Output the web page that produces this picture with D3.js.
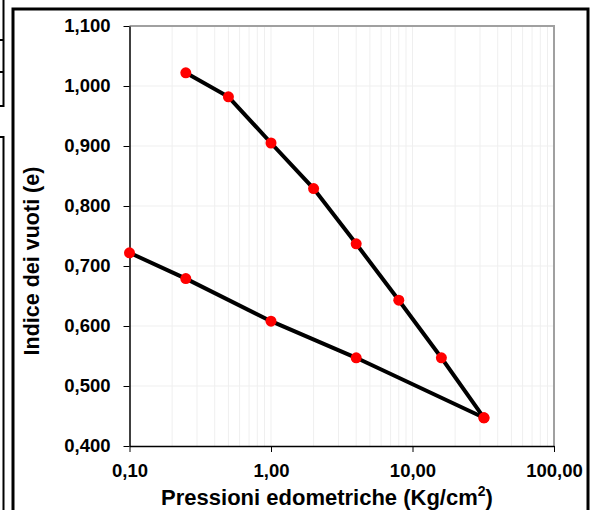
<!DOCTYPE html>
<html>
<head>
<meta charset="utf-8">
<script src="https://cdn.jsdelivr.net/npm/d3@7"></script>
<style>
  body { margin: 0; background: #fff; }
  svg { display: block; font-family: 'Liberation Sans', Arial, sans-serif; font-weight: bold; }
</style>
</head>
<body>
<svg id="chart"></svg>
<script>
// carico (loading) and scarico (unloading) branches
const loadP = [0.25, 0.5, 1, 2, 4, 8, 16, 32];
const loadE = [1.022, 0.982, 0.905, 0.829, 0.737, 0.643, 0.547, 0.447];
const unloadP = [32, 4, 1, 0.25, 0.1];
const unloadE = [0.447, 0.547, 0.608, 0.679, 0.722];

const xTicks = [0.1, 1, 10, 100];
const yTicks = [0.4, 0.5, 0.6, 0.7, 0.8, 0.9, 1.0, 1.1];

const width = 593;
const height = 510;
const plot = { left: 129.5, right: 554, top: 26, bottom: 446 };

const svg = d3.select('#chart')
  .attr('width', width)
  .attr('height', height);

const it = d3.formatLocale({ decimal: ',', thousands: '.', grouping: [3], currency: ['', '€'] });

const x = d3.scaleLog()
  .domain([0.1, 100])
  .range([plot.left, plot.right]);
const y = d3.scaleLinear()
  .domain([0.4, 1.1])
  .range([plot.bottom, plot.top]);

// fragments of neighbouring boxes on the left
svg.append('path')
  .attr('d', 'M3.5,0 V106 H0 M0,40 H3.5 M0,72 H3.5 M0,137 H3.5 V510')
  .attr('fill', 'none')
  .attr('stroke', '#000')
  .attr('stroke-width', 2);

// outer frame
svg.append('rect')
  .attr('x', 13)
  .attr('y', 9)
  .attr('width', 575)
  .attr('height', 520)
  .attr('fill', 'none')
  .attr('stroke', '#000')
  .attr('stroke-width', 3);

// grid
const minor = [];
for (let dec = 0.1; dec < 100; dec *= 10) {
  for (let k = 1; k <= 9; k++) minor.push(+(dec * k).toPrecision(3));
}
svg.append('g')
  .selectAll('line')
  .data(minor.filter(d => d > 0.1))
  .enter().append('line')
    .attr('x1', d => x(d)).attr('x2', d => x(d))
    .attr('y1', plot.top).attr('y2', plot.bottom)
    .attr('stroke', '#efefef')
    .attr('stroke-width', 1);
svg.append('g')
  .selectAll('line')
  .data(yTicks.slice(1, -1))
  .enter().append('line')
    .attr('x1', plot.left).attr('x2', plot.right)
    .attr('y1', d => y(d)).attr('y2', d => y(d))
    .attr('stroke', '#efefef')
    .attr('stroke-width', 1);

// top / right border of the plot area
svg.append('path')
  .attr('d', `M${plot.left},${plot.top} H${plot.right} V${plot.bottom}`)
  .attr('fill', 'none')
  .attr('stroke', '#a0a0a0')
  .attr('stroke-width', 2);

// axes
const xAxis = d3.axisBottom(x)
  .tickValues(xTicks)
  .tickSize(6)
  .tickSizeOuter(0)
  .tickPadding(12)
  .tickFormat(it.format('.2f'));
const yAxis = d3.axisLeft(y)
  .tickValues(yTicks)
  .tickSize(6)
  .tickSizeOuter(0)
  .tickPadding(13)
  .tickFormat(it.format(',.3f'));

const gx = svg.append('g')
  .attr('transform', `translate(0, ${plot.bottom})`)
  .call(xAxis);
const gy = svg.append('g')
  .attr('transform', `translate(${plot.left}, 0)`)
  .call(yAxis);

[gx, gy].forEach(g => {
  g.select('.domain').attr('stroke', '#000').attr('stroke-width', 1.5);
  g.selectAll('.tick line').attr('stroke', '#000').attr('stroke-width', 1);
  g.selectAll('.tick text')
    .attr('fill', '#000')
    .attr('font-size', 18.5)
    .attr('font-family', "'Liberation Sans', Arial, sans-serif")
    .attr('font-weight', 'bold');
});

// lines
const line = d3.line()
  .x(d => x(d[0]))
  .y(d => y(d[1]));
const series = [d3.zip(loadP, loadE), d3.zip(unloadP, unloadE)];

svg.append('g')
  .selectAll('path')
  .data(series)
  .enter().append('path')
    .attr('d', line)
    .attr('fill', 'none')
    .attr('stroke', '#000')
    .attr('stroke-width', 4);

svg.append('g')
  .selectAll('circle')
  .data(series.flat())
  .enter().append('circle')
    .attr('cx', d => x(d[0]))
    .attr('cy', d => y(d[1]))
    .attr('r', 5.5)
    .attr('fill', '#ff0000');

// axis titles
const xTitle = svg.append('text')
  .attr('x', 327)
  .attr('y', 505)
  .attr('text-anchor', 'middle')
  .attr('font-size', 22);
xTitle.append('tspan').text('Pressioni edometriche (Kg/cm');
xTitle.append('tspan').attr('font-size', 14).attr('dy', -9).text('2');
xTitle.append('tspan').attr('dy', 9).text(')');

svg.append('text')
  .attr('transform', 'translate(39, 261) rotate(-90)')
  .attr('text-anchor', 'middle')
  .attr('font-size', 21.5)
  .text('Indice dei vuoti (e)');
</script>
</body>
</html>
